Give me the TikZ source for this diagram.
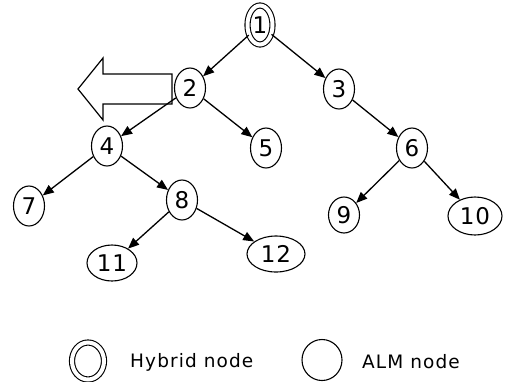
\documentclass[tikz,border=0pt]{standalone}
\usepackage{fontspec}
\setmainfont{DejaVu Sans}
\newfontfamily\numfont[LetterSpace=4]{DejaVu Sans}
\newfontfamily\legfont[LetterSpace=6]{DejaVu Sans}
\usetikzlibrary{arrows.meta,shapes.geometric}
\tikzset{
  alm/.style={ellipse, draw, line width=1.1pt, fill=white, inner sep=0pt,
    minimum width=31pt, minimum height=40pt,
    font={\numfont\fontsize{23}{23}\selectfont}},
  hyb/.style={alm, double, double distance=4pt, line width=1.1pt},
  edge/.style={line width=1.3pt, -{Triangle[length=11pt,width=9pt]}},
  legtext/.style={anchor=west, inner sep=0pt, font={\legfont\fontsize{18.5}{18.5}\selectfont}},
  blockarrow/.style={draw, line width=1.2pt, fill=white, line join=miter}
}
\begin{document}
\begin{tikzpicture}[x=1pt,y=-1pt]
\useasboundingbox (0,0) rectangle (505,381);
% block arrow
\draw[blockarrow] (78,89) -- (103,58) -- (103,74) -- (172,74) -- (172,104)
  -- (103,104) -- (103,120) -- cycle;
% nodes
\node[hyb, minimum width=25pt, minimum height=39pt] (n1) at (260,25) {1};
\node[alm] (n2) at (190,88) {2};
\node[alm] (n3) at (339,89) {3};
\node[alm] (n4) at (107,146) {4};
\node[alm] (n5) at (266,148) {5};
\node[alm] (n6) at (412,148) {6};
\node[alm] (n7) at (29,206) {7};
\node[alm] (n8) at (182,200) {8};
\node[alm, minimum height=36pt] (n9) at (344,215) {9};
\node[alm, minimum width=54pt, minimum height=38pt] (n10) at (475,216) {10};
\node[alm, minimum width=50pt, minimum height=36pt] (n11) at (112,263) {11};
\node[alm, minimum width=58pt, minimum height=36pt] (n12) at (276,254) {12};
% edges
\draw[edge] (n1) -- (n2);
\draw[edge] (n1) -- (n3);
\draw[edge] (n2) -- (n4);
\draw[edge] (n2) -- (n5);
\draw[edge] (n3) -- (n6);
\draw[edge] (n4) -- (n7);
\draw[edge] (n4) -- (n8);
\draw[edge] (n6) -- (n9);
\draw[edge] (n6) -- (n10);
\draw[edge] (n8) -- (n11);
\draw[edge] (n8) -- (n12);
% legend
\node[hyb, minimum width=32pt, minimum height=37pt] (lh) at (88,361) {};
\node[legtext] (lht) at (130,362) {Hybrid node};
\node[alm, minimum width=40pt, minimum height=41pt] (la) at (322,360) {};
\node[legtext] (lat) at (362,362) {ALM node};
\end{tikzpicture}
\end{document}
